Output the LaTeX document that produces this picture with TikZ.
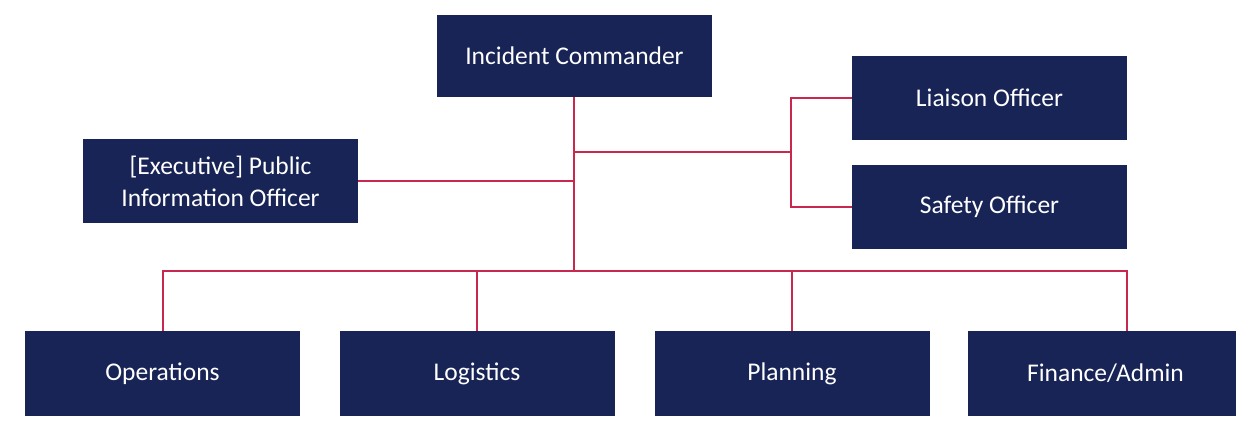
\documentclass[tikz,border=0pt]{standalone}
\usepackage{fontspec}
\setmainfont{Carlito}
\definecolor{navy}{RGB}{24,36,86}
\definecolor{linkred}{RGB}{200,40,78}
\begin{document}
\begin{tikzpicture}[x=1pt,y=-1pt,
  box/.style={fill=navy,text=white,font=\fontsize{25.5}{32}\selectfont,align=center,inner sep=0pt,minimum width=275pt},
  link/.style={draw=linkred,line width=1.4pt}]
\useasboundingbox (0,0) rectangle (1236,439);
\fill[white] (0,0) rectangle (1236,439);
\node[box,minimum height=82pt] (ic) at (574.5,56) {Incident Commander};
\node[box,minimum height=84pt] (lo) at (989.5,98) {Liaison Officer};
\node[box,minimum height=84pt] (so) at (989.5,207) {Safety Officer};
\node[box,minimum height=84pt] (pio) at (220.5,181) {[Executive] Public\\Information Officer};
\node[box,minimum height=85pt] (ops) at (162.5,373.5) {Operations};
\node[box,minimum height=85pt] (log) at (477,373.5) {Logistics};
\node[box,minimum height=85pt] (pla) at (792,373.5) {Planning};
\node[box,minimum height=85pt] (fin) at (1105.5,373.5) {Finance/Admin};
\coordinate (hub) at (574,271);
\coordinate (mid) at (574,152);
\coordinate (split) at (791,152);
\coordinate (pj) at (574,181);
\coordinate (bl) at (163,271);
\coordinate (br) at (1127,271);
\draw[link] (ic.south -| hub) -- (hub);
\draw[link] (mid) -- (split);
\draw[link] (lo.west) -| (split) |- (so.west);
\draw[link] (pio.east) -- (pj);
\draw[link] (ops.north -| bl) -- (bl) -- (br) -- (fin.north -| br);
\draw[link] (log.north) -- (log.north |- hub);
\draw[link] (pla.north) -- (pla.north |- hub);
\end{tikzpicture}
\end{document}
